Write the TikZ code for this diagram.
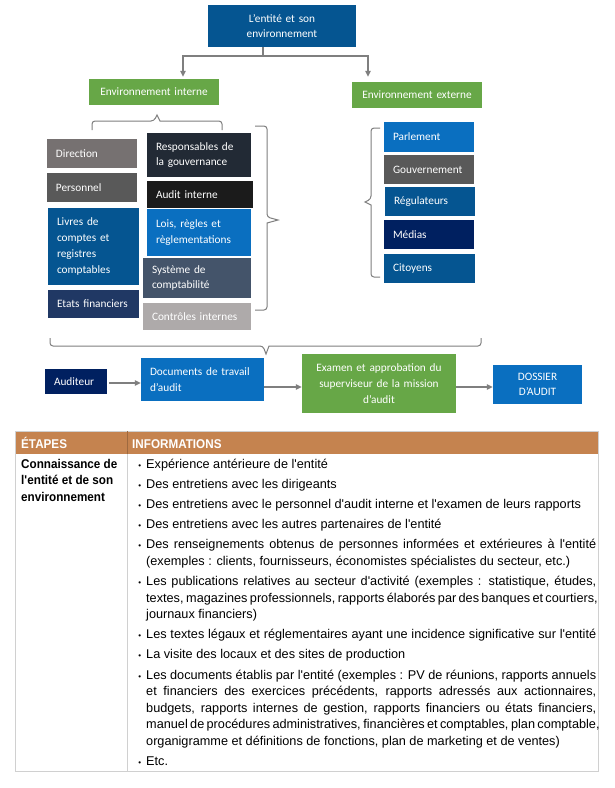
\documentclass[tikz,border=0pt]{standalone}
\usepackage{fontspec}
\setmainfont{Carlito}
\newfontfamily\tabfont{Liberation Sans}
\newfontfamily\tabbold[FakeStretch=0.92]{Liberation Sans}
\usetikzlibrary{arrows.meta}
\definecolor{cTop}{HTML}{055591}
\definecolor{cBlue}{HTML}{0A6FC0}
\definecolor{cGreen}{HTML}{67A747}
\definecolor{cDir}{HTML}{767171}
\definecolor{cPers}{HTML}{595959}
\definecolor{cNavy}{HTML}{203864}
\definecolor{cResp}{HTML}{222A35}
\definecolor{cAudit}{HTML}{1B1B1B}
\definecolor{cSys}{HTML}{44546A}
\definecolor{cCtrl}{HTML}{AEAAAA}
\definecolor{cMed}{HTML}{002060}
\definecolor{cLine}{HTML}{7F7F7F}
\definecolor{cHdr}{HTML}{C5834F}
\definecolor{cTab}{HTML}{D0D0D0}
\newcommand{\bul}{{\fontsize{8}{8}\selectfont •}}
\newcommand{\tq}{\textquotesingle}
\newcommand{\jl}[1]{\makebox[450pt][s]{#1}}
\begin{document}
\begin{tikzpicture}[x=1pt,y=-1pt,
  lbox/.style={inner xsep=9pt, inner ysep=0pt, text=white, align=left,
     font=\fontsize{11.3}{15.7}\selectfont},
  cbox/.style={inner xsep=9pt, inner ysep=0pt, text=white, align=center,
     font=\fontsize{11.3}{15.7}\selectfont},
  conn/.style={draw=cLine, line width=1.1pt},
  arr/.style={conn, -{Triangle[length=6pt,width=5.5pt]}},
  brc/.style={draw=cLine, line width=1pt, rounded corners=3pt},
  tb/.style={inner sep=0pt, anchor=base west, font=\tabfont\fontsize{12.7}{15}\selectfont},
  tbb/.style={inner sep=0pt, anchor=base west, font=\tabbold\bfseries\fontsize{12.7}{15}\selectfont},
  tline/.style={draw=cTab, line width=0.9pt}]
\useasboundingbox[fill=white] (0,0) rectangle (615,788);

% ---------- top part ----------
\node[cbox, fill=cTop, text width=130pt, minimum height=42pt] (top) at (282,26) {L’entité et son\\environnement};
\node[cbox, fill=cGreen, text width=112pt, minimum height=26pt] (ei) at (154,92) {Environnement interne};
\node[cbox, fill=cGreen, text width=112pt, minimum height=26pt] (ee) at (417,95) {Environnement externe};

\coordinate (split) at (263,56);
\draw[conn] (split |- top.south) -- (split);
\draw[arr] (split) -| ([xshift=29pt,yshift=2pt]ei.north);
\draw[arr] (split) -| ([xshift=-49pt,yshift=5pt]ee.north);

% internal boxes, left column
\node[lbox, fill=cDir, text width=72pt, minimum height=29pt] (dir) at (92,153.5) {Direction};
\node[lbox, fill=cPers, text width=72pt, minimum height=29pt] (pers) at (92,187.5) {Personnel};
\node[lbox, fill=cTop, text width=73pt, minimum height=77pt] (livres) at (93.5,246.5) {Livres de\\comptes et\\registres\\comptables};
\node[lbox, fill=cNavy, text width=73pt, minimum height=28pt] (etats) at (93.5,304) {Etats financiers};
% right column
\node[lbox, fill=cResp, text width=86pt, minimum height=44pt] (resp) at (199,155) {Responsables de\\la gouvernance};
\node[lbox, fill=cAudit, text width=88pt, minimum height=27pt] (audit) at (200,194.5) {Audit interne};
\node[lbox, fill=cBlue, text width=86pt, minimum height=47pt] (lois) at (199,232.5) {Lois, règles et\\règlementations};
\node[lbox, fill=cSys, text width=90pt, minimum height=40pt] (sys) at (197,278) {Système de\\comptabilité};
\node[lbox, fill=cCtrl, text width=90pt, minimum height=27pt] (ctrl) at (197,316.5) {Contrôles internes};

% external boxes
\node[lbox, fill=cBlue, text width=72pt, minimum height=30pt] (parl) at (429,137) {Parlement};
\node[lbox, fill=cPers, text width=72pt, minimum height=29pt] (gouv) at (429,169.5) {Gouvernement};
\node[lbox, fill=cTop, text width=72pt, minimum height=29pt] (reg) at (430,201.5) {Régulateurs};
\node[lbox, fill=cMed, text width=72pt, minimum height=29pt] (med) at (429,234.5) {Médias};
\node[lbox, fill=cTop, text width=73pt, minimum height=29pt] (cit) at (429.5,268.5) {Citoyens};

% braces
\draw[brc] (92,130) -- (92,121) -- (154,121) [sharp corners] -- (157,115) -- (160,121) [rounded corners=3pt] -- (222,121) -- (222,130);
\draw[brc] (255,126) -- (267,126) -- (267,217) [sharp corners] -- (278,220) -- (267,223) [rounded corners=3pt] -- (267,310) -- (255,310);
\draw[brc] (380,128) -- (371,128) -- (371,199) [sharp corners] -- (365,202) -- (371,205) [rounded corners=3pt] -- (371,277) -- (380,277);
\draw[brc] (50,338) -- (50,346) -- (263,346) [sharp corners] -- (266,354) -- (269,346) [rounded corners=3pt] -- (481,346) -- (481,338);

% ---------- flow ----------
\node[lbox, fill=cMed, text width=44pt, minimum height=25pt] (aud) at (76,381.5) {Auditeur};
\node[lbox, fill=cBlue, text width=105pt, minimum height=43pt] (doc) at (202.5,379.5) {Documents de travail\\d'audit};
\node[cbox, fill=cGreen, text width=136pt, minimum height=59pt] (exa) at (379,383.5) {Examen et approbation du\\superviseur de la mission\\d’audit};
\node[cbox, fill=cBlue, text width=71pt, minimum height=39pt] (dos) at (537.5,384.5) {DOSSIER\\D’AUDIT};
\coordinate (row1) at (0,383);
\coordinate (row2) at (0,387);
\draw[arr] ([xshift=2pt]aud.east |- row1) -- (doc.west |- row1);
\draw[arr] (doc.east |- row2) -- (exa.west |- row2);
\draw[arr] (exa.east |- row2) -- (dos.west |- row2);

% ---------- table ----------
\fill[cHdr] (15,431) rectangle (598,454);
\draw[tline] (15,431) -- (598,431);
\draw[tline] (15,431) -- (15,771) -- (598,771) -- (598,431);
\draw[tline] (127,454) -- (127,771);
\draw[draw=cHdr!80!black, line width=0.6pt] (127,431) -- (127,454);

\node[tbb, text=white] (h1) at (21,448) {ÉTAPES};
\node[tbb, text=white] (h2) at (132,448) {INFORMATIONS};

\node[tbb] (s1) at (21,468) {Connaissance de};
\node[tbb] (s2) at (21,484.5) {l\tq entité et de son};
\node[tbb] (s3) at (21,501) {environnement};

\node[tb] (i1) at (146,468) {\llap{\bul\hspace{5pt}}Expérience antérieure de l\tq entité};
\node[tb] (i2) at (146,488.2) {\llap{\bul\hspace{5pt}}Des entretiens avec les dirigeants};
\node[tb] (i3) at (146,508.4) {\llap{\bul\hspace{5pt}}Des entretiens avec le personnel d\tq audit interne et l\tq examen de leurs rapports};
\node[tb] (i4) at (146,528.6) {\llap{\bul\hspace{5pt}}Des entretiens avec les autres partenaires de l\tq entité};
\node[tb] (i5a) at (146,548.8) {\llap{\bul\hspace{5pt}}\jl{Des renseignements obtenus de personnes informées et extérieures à l\tq entité}};
\node[tb] (i5b) at (146,565.3) {(exemples : clients, fournisseurs, économistes spécialistes du secteur, etc.)};
\node[tb] (i6a) at (146,585.5) {\llap{\bul\hspace{5pt}}\jl{Les publications relatives au secteur d\tq activité (exemples : statistique, études,}};
\node[tb] (i6b) at (146,602) {\jl{textes, magazines professionnels, rapports élaborés par des banques et courtiers,}};
\node[tb] (i6c) at (146,618.5) {journaux financiers)};
\node[tb] (i7) at (146,638.7) {\llap{\bul\hspace{5pt}}\jl{Les textes légaux et réglementaires ayant une incidence significative sur l\tq entité}};
\node[tb] (i8) at (146,658.9) {\llap{\bul\hspace{5pt}}La visite des locaux et des sites de production};
\node[tb] (i9a) at (146,679.1) {\llap{\bul\hspace{5pt}}\jl{Les documents établis par l\tq entité (exemples : PV de réunions, rapports annuels}};
\node[tb] (i9b) at (146,695.6) {\jl{et financiers des exercices précédents, rapports adressés aux actionnaires,}};
\node[tb] (i9c) at (146,712.1) {\jl{budgets, rapports internes de gestion, rapports financiers ou états financiers,}};
\node[tb] (i9d) at (146,728.6) {\jl{manuel de procédures administratives, financières et comptables, plan comptable,}};
\node[tb] (i9e) at (146,745.1) {organigramme et définitions de fonctions, plan de marketing et de ventes)};
\node[tb] (i10) at (146,765.3) {\llap{\bul\hspace{5pt}}Etc.};
\end{tikzpicture}
\end{document}
